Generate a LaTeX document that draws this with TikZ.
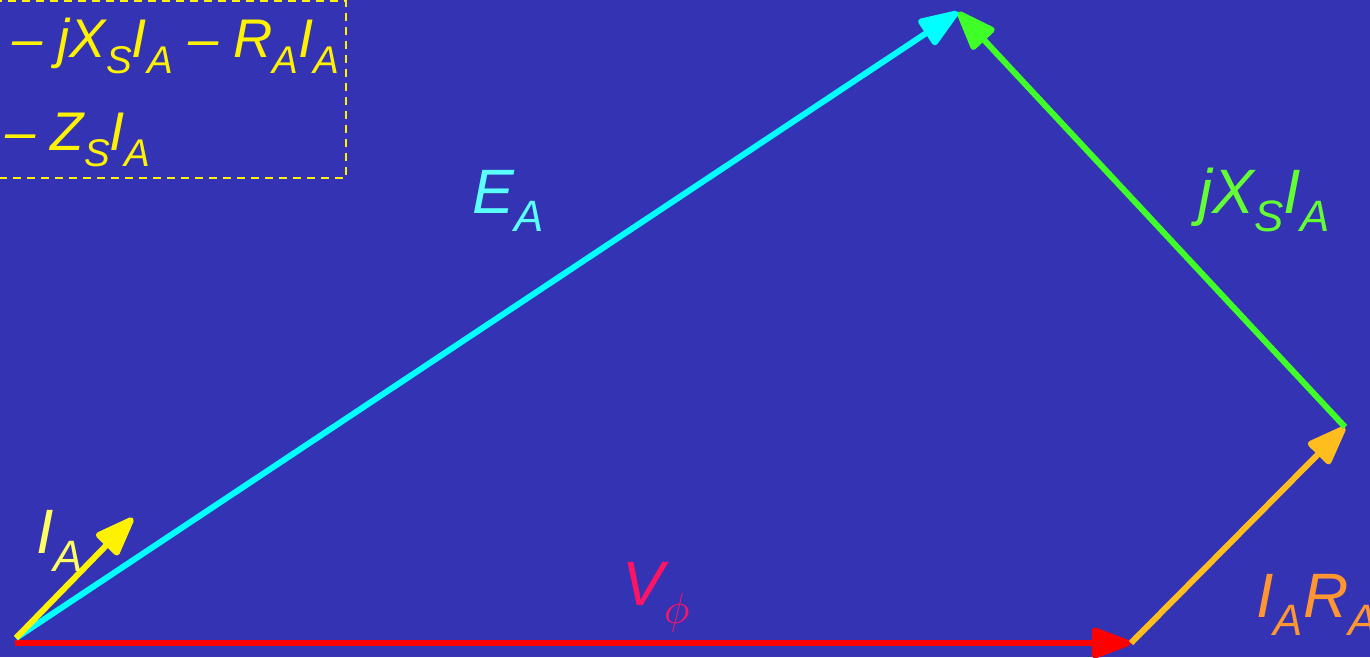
\documentclass[tikz,border=0pt]{standalone}
\usepackage{fontspec}
\setmainfont{Liberation Sans}
\usetikzlibrary{arrows.meta}

\definecolor{slidebg}{RGB}{51,51,179}
\definecolor{cyanvec}{RGB}{0,255,255}
\definecolor{cyanlab}{RGB}{90,255,255}
\definecolor{greenvec}{RGB}{64,255,40}
\definecolor{greenlab}{RGB}{100,255,50}
\definecolor{yellowlab}{RGB}{255,255,100}
\definecolor{orangevec}{RGB}{255,190,30}
\definecolor{orangelab}{RGB}{255,150,50}
\definecolor{redlab}{RGB}{255,20,100}

\newcommand{\lowidx}[2][25pt]{\raisebox{-0.3em}{\fontsize{#1}{#1}\selectfont #2}}

\tikzset{
  vec/.style={line width=0.12cm, -{Triangle[length=0.9cm, width=0.64cm, round]}},
  veclabel/.style={anchor=base west, inner sep=0pt, font=\fontsize{35.7pt}{36pt}\selectfont\itshape},
  boxtext/.style={anchor=base west, inner sep=0pt, text=yellow, font=\fontsize{31pt}{32pt}\selectfont\itshape}
}

\begin{document}
\begin{tikzpicture}[x=0.02cm, y=-0.02cm]
  \fill[slidebg] (0,0) rectangle (1370,657);
  \useasboundingbox (0,0) rectangle (1370,657);

  % phasor end points
  \coordinate (O) at (16,638);
  \coordinate (vs) at (15,643);
  \coordinate (ve) at (1131,643);
  \coordinate (rt) at (1345,427);
  \coordinate (top) at (958,12);
  \coordinate (ia) at (133,518);

  % equation box
  \draw[yellow, line width=0.04cm, dash pattern=on 0.16cm off 0.12cm] (-20,1) rectangle (346,178);
  \node[boxtext] (eq1) at (12,57) {– jX\lowidx[22pt]{S}I\lowidx[22pt]{A} – R\lowidx[22pt]{A}I\lowidx[22pt]{A}};
  \node[boxtext] (eq2) at (5,150) {– Z\lowidx[22pt]{S}I\lowidx[22pt]{A}};

  % phasors
  \draw[vec, red] (vs) -- (ve);
  \draw[vec, orangevec] (ve) -- (rt);
  \draw[vec, greenvec] (rt) -- (top);
  \draw[vec, cyanvec] (O) -- (top);
  \draw[vec, yellow] (O) -- (ia);

  % labels
  \node[veclabel, text=cyanlab] (ealab) at (472,213) {E\lowidx{A}};
  \node[veclabel, text=greenlab] (xslab) at (1198,213) {jX\lowidx{S}I\lowidx{A}};
  \node[veclabel, text=yellowlab] (ialab) at (36,553) {I\lowidx{A}};
  \node[veclabel, text=redlab] (vlab) at (622,605) {V\lowidx[29pt]{$\phi$}};
  \node[veclabel, text=orangelab] (ralab) at (1256,617) {I\lowidx{A}R\lowidx{A}};
\end{tikzpicture}
\end{document}
